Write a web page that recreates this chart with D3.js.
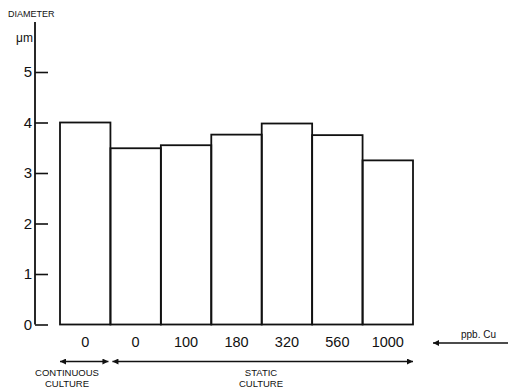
<!DOCTYPE html>
<html><head><meta charset="utf-8">
<script src="https://cdn.jsdelivr.net/npm/d3@7"></script>
<style>body{margin:0;background:#fff}svg{display:block}text{font-family:"Liberation Sans",Arial,sans-serif;fill:#111}</style>
</head><body><svg id="c" width="508" height="392"></svg>
<script>
const categories = ["0","0","100","180","320","560","1000"];
const diameters = [4.0, 3.49, 3.55, 3.76, 3.98, 3.75, 3.25];
const yTicks = [0,1,2,3,4,5];
const groups = [{label:["CONTINUOUS","CULTURE"], from:0, to:1}, {label:["STATIC","CULTURE"], from:1, to:7}];

const svg = d3.select("#c");
const x = d3.scaleBand().domain(d3.range(categories.length)).range([60, 413]).padding(0);
const y = d3.scaleLinear().domain([0,5]).range([324.5, 72]);

const defs = svg.append("defs");
defs.append("marker").attr("id","ah").attr("viewBox","0 0 10 10").attr("refX",10).attr("refY",5)
  .attr("markerWidth",10).attr("markerHeight",6).attr("markerUnits","userSpaceOnUse").attr("orient","auto-start-reverse")
  .append("path").attr("d","M0,0L10,5L0,10z").attr("fill","#111");

// y axis
const ax = svg.append("g").attr("transform","translate(35,0)");
ax.append("line").attr("x1",0).attr("x2",0).attr("y1",22).attr("y2",y(0)).attr("stroke","#111").attr("stroke-width",1.8);
const g = ax.append("g").call(d3.axisRight(y).tickValues(yTicks).tickSize(13).tickFormat(""));
g.select(".domain").remove();
g.selectAll(".tick line").attr("stroke","#111").attr("stroke-width",1.6);
ax.selectAll(".tl").data(yTicks).join("text").attr("class","tl")
  .attr("x",-3).attr("y",d=>y(d)+5).attr("text-anchor","end").attr("font-size",15).text(d=>d);
ax.append("text").attr("x",-2).attr("y",42).attr("text-anchor","end").attr("font-size",12).text("μm");
svg.append("text").attr("x",8).attr("y",17).attr("font-size",9).text("DIAMETER");

// bars
svg.selectAll(".bar").data(diameters).join("rect").attr("class","bar")
  .attr("x",(d,i)=>x(i)).attr("width",x.bandwidth())
  .attr("y",d=>y(d)).attr("height",d=>y(0)-y(d))
  .attr("fill","none").attr("stroke","#111").attr("stroke-width",1.8);

// category labels
svg.selectAll(".cl").data(categories).join("text").attr("class","cl")
  .attr("x",(d,i)=>x(i)+x.bandwidth()/2).attr("y",347).attr("text-anchor","middle").attr("font-size",14.5).text(d=>d);

// group arrows
groups.forEach(gr=>{
  const x0 = x(gr.from), x1 = x(gr.to-1)+x.bandwidth();
  svg.append("line").attr("x1",x0+(gr.from?2:0)).attr("x2",x1-(gr.from?0:2)).attr("y1",361.5).attr("y2",361.5)
    .attr("stroke","#111").attr("stroke-width",1.4)
    .attr("marker-start","url(#ah)").attr("marker-end","url(#ah)");
  const cx = gr.from===0 ? 67 : 261;
  gr.label.forEach((t,k)=>svg.append("text").attr("x",cx).attr("y",376+k*10.5).attr("text-anchor","middle").attr("font-size",9.5).text(t));
});

// ppb Cu
svg.append("text").attr("x",461).attr("y",338).attr("font-size",10).text("ppb. Cu");
svg.append("line").attr("x1",508).attr("x2",433).attr("y1",343).attr("y2",343).attr("stroke","#111").attr("stroke-width",1.4).attr("marker-end","url(#ah)");
</script></body></html>
